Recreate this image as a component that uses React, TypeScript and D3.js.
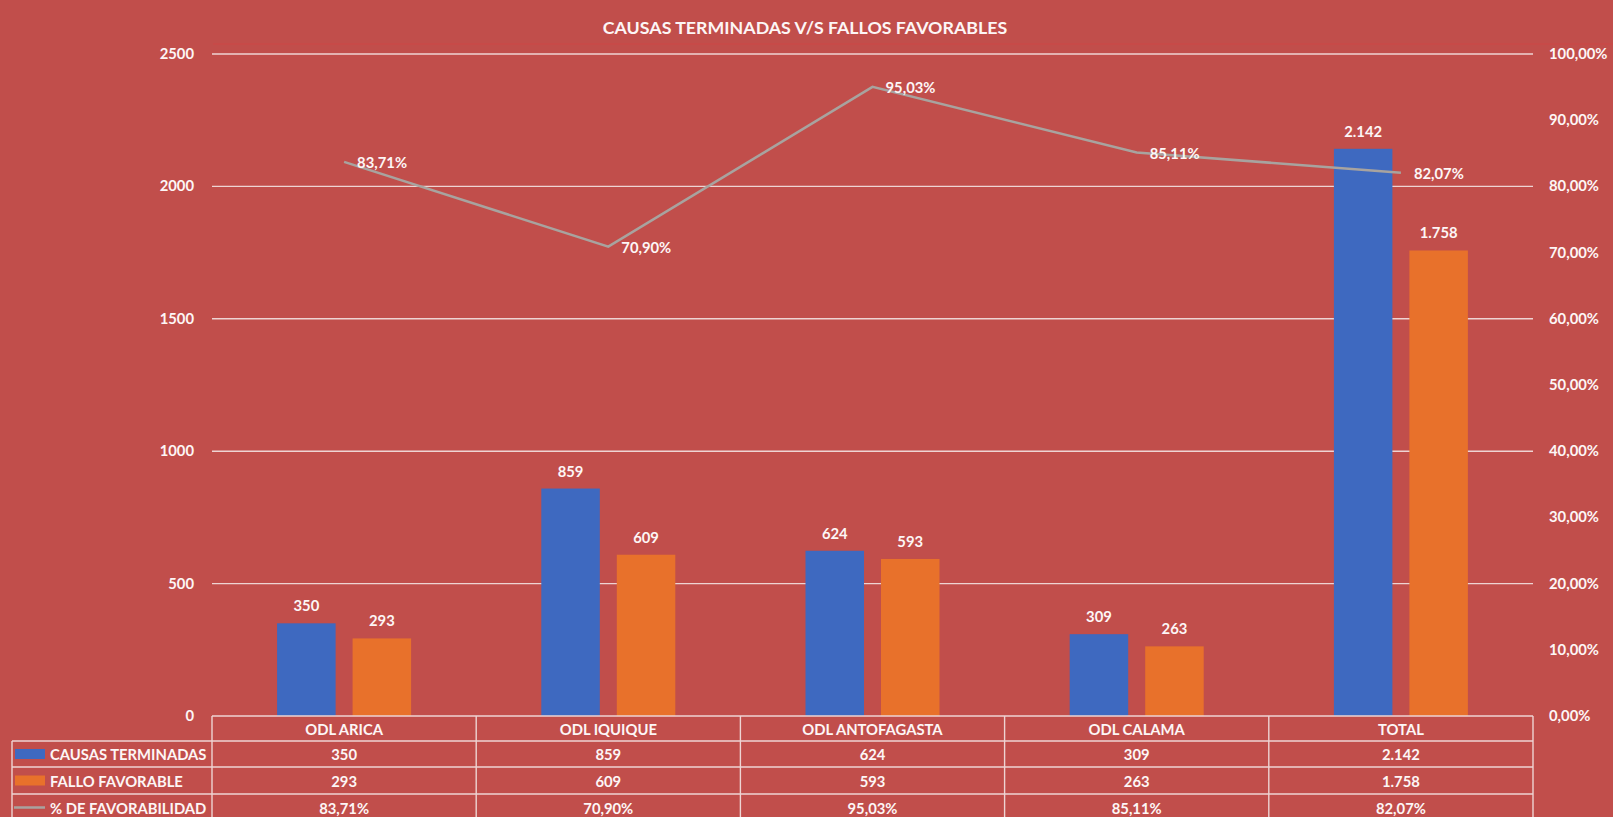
import React from "react";
import * as d3 from "d3";

const categories = ["ODL ARICA", "ODL IQUIQUE", "ODL ANTOFAGASTA", "ODL CALAMA", "TOTAL"];
const causasTerminadas = [350, 859, 624, 309, 2142];
const falloFavorable = [293, 609, 593, 263, 1758];
const favorabilidad = [0.8371, 0.709, 0.9503, 0.8511, 0.8207];
const leftTicks = [0, 500, 1000, 1500, 2000, 2500];
const rightTicks = [0, 0.1, 0.2, 0.3, 0.4, 0.5, 0.6, 0.7, 0.8, 0.9, 1.0];
const seriesNames = ["CAUSAS TERMINADAS", "FALLO FAVORABLE", "% DE FAVORABILIDAD"];
const title = "CAUSAS TERMINADAS V/S FALLOS FAVORABLES";

const W = 1613;
const H = 817;
const BG = "#c14e4b";
const BLUE = "#3e69c0";
const ORANGE = "#e8712b";
const GRAY = "#a8a39f";
const GRID = "#eed4d3";
const TXT = "#fdf6f6";
const FONT = "Lato, 'Open Sans', 'Liberation Sans', sans-serif";
const FS = 14.8;

const locale = d3.formatLocale({ decimal: ",", thousands: ".", grouping: [3], currency: ["", "$"] });
const fmtNum = locale.format(",");
const fmtPct = locale.format(".2%");

export default function App() {
  const left = 212;
  const right = 1533;
  const y0 = 716;
  const yTop = 54;

  const x = d3.scaleBand<string>().domain(categories).range([left, right]).paddingInner(0).paddingOuter(0);
  const groupW = 134;
  const xs = d3.scaleBand<string>().domain(["a", "b"]).range([0, groupW]).paddingInner(0.225);
  const yL = d3.scaleLinear().domain([0, 2500]).range([y0, yTop]);
  const yR = d3.scaleLinear().domain([0, 1]).range([y0, yTop]);

  const gx = (c: string) => (x(c) as number) + (x.bandwidth() - groupW) / 2;
  const cx = (c: string) => (x(c) as number) + x.bandwidth() / 2;

  const line = d3
    .line<number>()
    .x((_, i) => cx(categories[i]))
    .y((d) => yR(d));

  const rowTops = [716, 741, 767, 794, 821];
  const tableLeft = 12;

  return (
    <svg
      width={W}
      height={H}
      style={{ position: "absolute", left: 0, top: 0, display: "block" }}
      fontFamily={FONT}
    >
      <rect x={0} y={0} width={W} height={H} fill={BG} />
      <text x={805} y={27} textAnchor="middle" dominantBaseline="central" fill={TXT} fontSize={17.8} fontWeight={700}>
        {title}
      </text>
      <line x1={213} x2={W} y1={44} y2={44} stroke="#cd4646" strokeWidth={1} />

      {/* gridlines */}
      {leftTicks
        .filter((t) => t > 0)
        .map((t) => (
          <line key={"g" + t} x1={left} x2={right} y1={yL(t)} y2={yL(t)} stroke={GRID} strokeWidth={1.4} />
        ))}

      {/* left axis labels */}
      {leftTicks.map((t) => (
        <text key={"l" + t} x={194} y={yL(t) - 1} textAnchor="end" dominantBaseline="central" fill={TXT} fontSize={FS} fontWeight={700}>
          {t}
        </text>
      ))}
      {/* right axis labels */}
      {rightTicks.map((t) => (
        <text key={"r" + t} x={1549} y={yR(t) - 1} textAnchor="start" dominantBaseline="central" fill={TXT} fontSize={FS} fontWeight={700}>
          {fmtPct(t)}
        </text>
      ))}

      {/* bars */}
      {categories.map((c, i) => {
        const bx = gx(c) + (xs("a") as number);
        const ox = gx(c) + (xs("b") as number);
        const bw = xs.bandwidth();
        return (
          <g key={"b" + c}>
            <rect x={bx} y={yL(causasTerminadas[i])} width={bw} height={y0 - yL(causasTerminadas[i])} fill={BLUE} />
            <rect x={ox} y={yL(falloFavorable[i])} width={bw} height={y0 - yL(falloFavorable[i])} fill={ORANGE} />
            <text x={bx + bw / 2} y={yL(causasTerminadas[i]) - 18} textAnchor="middle" dominantBaseline="central" fill={TXT} fontSize={FS} fontWeight={700}>
              {fmtNum(causasTerminadas[i])}
            </text>
            <text x={ox + bw / 2} y={yL(falloFavorable[i]) - 18} textAnchor="middle" dominantBaseline="central" fill={TXT} fontSize={FS} fontWeight={700}>
              {fmtNum(falloFavorable[i])}
            </text>
          </g>
        );
      })}

      {/* line */}
      <path d={line(favorabilidad) || ""} fill="none" stroke={GRAY} strokeWidth={2.5} />
      {categories.map((c, i) => (
        <text key={"p" + c} x={cx(c) + 13} y={yR(favorabilidad[i])} textAnchor="start" dominantBaseline="central" fill={TXT} fontSize={FS} fontWeight={700}>
          {fmtPct(favorabilidad[i])}
        </text>
      ))}

      {/* data table */}
      <g stroke={GRID} strokeWidth={1.4}>
        <line x1={left} x2={right} y1={rowTops[0]} y2={rowTops[0]} />
        {rowTops.slice(1).map((r) => (
          <line key={"h" + r} x1={tableLeft} x2={right} y1={r} y2={r} />
        ))}
        <line x1={tableLeft} x2={tableLeft} y1={rowTops[1]} y2={rowTops[4]} />
        {categories.map((c) => (
          <line key={"v" + c} x1={x(c) as number} x2={x(c) as number} y1={rowTops[0]} y2={rowTops[4]} />
        ))}
        <line x1={right} x2={right} y1={rowTops[0]} y2={rowTops[4]} />
      </g>

      {categories.map((c, i) => {
        const rows = [c, fmtNum(causasTerminadas[i]), fmtNum(falloFavorable[i]), fmtPct(favorabilidad[i])];
        return rows.map((txt, r) => (
          <text key={c + r} x={cx(c)} y={(rowTops[r] + rowTops[r + 1]) / 2} textAnchor="middle" dominantBaseline="central" fill={TXT} fontSize={FS} fontWeight={700}>
            {txt}
          </text>
        ));
      })}

      {/* legend keys */}
      {seriesNames.map((s, r) => {
        const cy = (rowTops[r + 1] + rowTops[r + 2]) / 2;
        return (
          <g key={"k" + s}>
            {r < 2 ? (
              <rect x={15} y={cy - 5} width={30} height={10} fill={r === 0 ? BLUE : ORANGE} />
            ) : (
              <line x1={14} x2={45} y1={cy} y2={cy} stroke={GRAY} strokeWidth={2.5} />
            )}
            <text x={50} y={cy} textAnchor="start" dominantBaseline="central" fill={TXT} fontSize={FS} fontWeight={700}>
              {s}
            </text>
          </g>
        );
      })}
    </svg>
  );
}
